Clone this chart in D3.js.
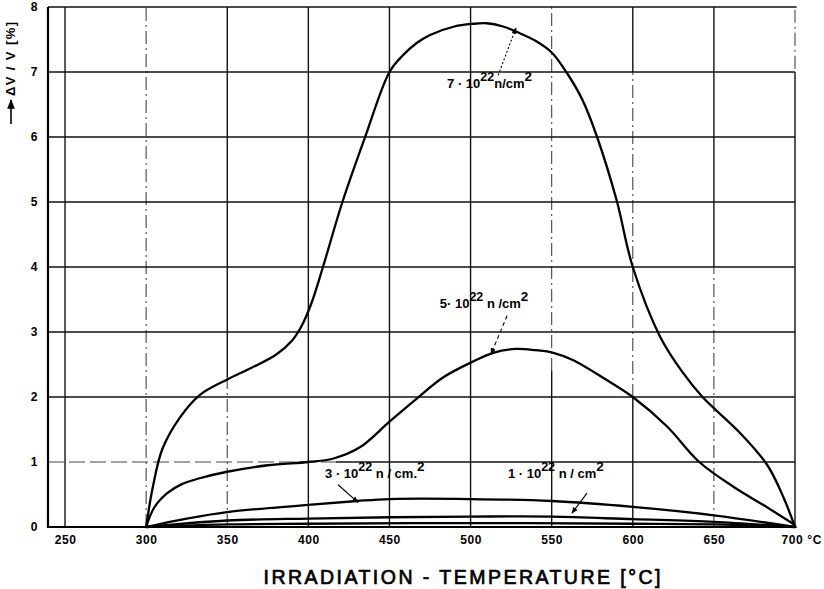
<!DOCTYPE html>
<html><head><meta charset="utf-8">
<script src="https://cdn.jsdelivr.net/npm/d3@7"></script>
<style>
body{margin:0;background:#fff;}
text{font-family:"Liberation Sans",Arial,sans-serif;}
</style></head>
<body><svg id="c" width="824" height="589"></svg>
<script>
// ---- data ----
const xTicks = [250,300,350,400,450,500,550,600,650,700];
const yTicks = [0,1,2,3,4,5,6,7,8];

const temps7 = [300,304,310,321,333,350,365,380,390,396,402,409,421,435,450,458,467,475,490,501,510,520,530,540,550,559,569,578,590,600,617,631,643,666,683,693,700];
const vals7  = [0,0.6,1.2,1.69,2.03,2.27,2.45,2.65,2.87,3.1,3.45,4.0,5.0,6.0,7.0,7.25,7.45,7.57,7.7,7.74,7.75,7.7,7.6,7.48,7.3,7.0,6.57,6.0,5.03,4.0,2.92,2.37,2.0,1.45,0.95,0.45,0];

const temps5 = [300,305,313,322,333,350,375,400,415,432,450,467,483,501,514,528,540,551,563,584,600,621,641,662,683,700];
const vals5  = [0,0.3,0.52,0.66,0.75,0.85,0.95,1.0,1.05,1.23,1.62,1.98,2.3,2.54,2.68,2.74,2.72,2.68,2.57,2.26,2.0,1.55,1.0,0.62,0.3,0.03];

const temps3 = [300,325,350,400,430,450,500,550,600,650,700];
const vals3  = [0,0.13,0.23,0.34,0.4,0.43,0.43,0.4,0.31,0.18,0];

const temps1 = [300,350,400,450,500,550,600,650,700];
const vals1  = [0,0.1,0.13,0.15,0.16,0.16,0.12,0.08,0];

const tempsLow = [300,350,400,500,600,650,700];
const valsLow  = [0,0.04,0.05,0.06,0.05,0.04,0];

// ---- layout ----
const svg = d3.select("#c");
const x = d3.scaleLinear().domain([239.5,700]).range([48,795]);
const y = d3.scaleLinear().domain([0,8]).range([527,7]);

const dashDot = "13,4,2,4";
const vGrid = [
  {t:250, segs:[[0,8,"s"]]},
  {t:300, segs:[[0,8,"d"]]},
  {t:350, segs:[[2.3,8,"s"],[0,2.3,"d"]]},
  {t:400, segs:[[0,8,"s"]]},
  {t:450, segs:[[0,8,"s"]]},
  {t:500, segs:[[0,8,"s"]]},
  {t:550, segs:[[2.4,8,"d"],[0,2.4,"s"]]},
  {t:600, segs:[[7,8,"s"],[2,7,"d"],[0,2,"s"]]},
  {t:650, segs:[[4,8,"s"],[0,4,"d"]]},
  {t:700, segs:[[7.05,8,"d"],[0,7,"s"]]}
];
const hGrid = [
  {v:1, segs:[[239.5,417,"d"],[417,700,"s"]]},
  {v:2, segs:[[239.5,700,"s"]]},
  {v:3, segs:[[239.5,700,"s"]]},
  {v:4, segs:[[239.5,700,"s"]]},
  {v:5, segs:[[239.5,700,"s"]]},
  {v:6, segs:[[239.5,700,"s"]]},
  {v:7, segs:[[239.5,700,"s"]]},
  {v:8, segs:[[239.5,701,"s"]]}
];

const g = svg.append("g");
vGrid.forEach(l => l.segs.forEach(s => {
  g.append("line").attr("x1",x(l.t)).attr("x2",x(l.t)).attr("y1",y(s[0])).attr("y2",y(s[1]))
   .attr("stroke", s[2]==="s" ? "#111" : "#444")
   .attr("stroke-width", s[2]==="s" ? 1.4 : 1.1)
   .attr("stroke-dasharray", s[2]==="s" ? null : dashDot);
}));
hGrid.forEach(l => l.segs.forEach(s => {
  g.append("line").attr("y1",y(l.v)).attr("y2",y(l.v)).attr("x1",x(s[0])).attr("x2",x(s[1]))
   .attr("stroke", s[2]==="s" ? "#111" : "#444")
   .attr("stroke-width", s[2]==="s" ? 1.5 : 1.2)
   .attr("stroke-dasharray", s[2]==="s" ? null : "16,5");
}));

// frame axes
svg.append("line").attr("x1",x(239.5)).attr("x2",x(239.5)).attr("y1",y(8)).attr("y2",y(0)+1).attr("stroke","#000").attr("stroke-width",2.2);
svg.append("line").attr("x1",x(239.5)).attr("x2",x(701)).attr("y1",y(0)).attr("y2",y(0)).attr("stroke","#000").attr("stroke-width",2.2);

// curves
const line = d3.line().x(d=>x(d[0])).y(d=>y(d[1])).curve(d3.curveCatmullRom.alpha(0.5));
const all = [
  d3.zip(temps7,vals7), d3.zip(temps5,vals5), d3.zip(temps3,vals3), d3.zip(temps1,vals1), d3.zip(tempsLow,valsLow)
];
svg.append("g").selectAll("path").data(all).join("path")
  .attr("d", line).attr("fill","none").attr("stroke","#000").attr("stroke-width",2.3).attr("stroke-linejoin","round");

// axes
const xAxis = svg.append("g").attr("transform",`translate(0,${y(0)})`)
  .call(d3.axisBottom(x).tickValues(xTicks).tickSize(0).tickPadding(8).tickFormat(d=> d===700 ? "700 °C" : d));
const yAxis = svg.append("g").attr("transform",`translate(${x(239.5)},0)`)
  .call(d3.axisLeft(y).tickValues(yTicks).tickSize(0).tickPadding(10));
[xAxis,yAxis].forEach(a=>{ a.select(".domain").remove();
  a.selectAll("text").attr("font-family","Liberation Sans, Arial, sans-serif").attr("font-weight","bold").attr("font-size",12).attr("letter-spacing",0.6).attr("fill","#000"); });
xAxis.selectAll(".tick").filter(d=>d===700).select("text").attr("text-anchor","start").attr("dx",-14);

// axis titles
svg.append("text").attr("x",462).attr("y",584).attr("text-anchor","middle")
  .attr("font-size",19.5).attr("font-weight","normal").attr("font-family","Liberation Sans, Arial, sans-serif").attr("fill","#000")
  .attr("stroke","#000").attr("stroke-width",0.7)
  .attr("textLength",397).attr("lengthAdjust","spacing")
  .text("IRRADIATION - TEMPERATURE   [°C]");

const defs = svg.append("defs");
defs.append("marker").attr("id","ah").attr("viewBox","0 0 10 10").attr("refX",9).attr("refY",5)
  .attr("markerWidth",6).attr("markerHeight",6).attr("orient","auto")
  .append("path").attr("d","M0,1 L10,5 L0,9 Z").attr("fill","#000");

svg.append("line").attr("x1",11).attr("x2",11).attr("y1",124).attr("y2",100)
  .attr("stroke","#000").attr("stroke-width",1.6).attr("marker-end","url(#ah)");
svg.append("text").attr("transform","translate(15,96) rotate(-90)").attr("text-anchor","start")
  .attr("font-size",13).attr("font-weight","bold").attr("fill","#000")
  .attr("textLength",74).attr("lengthAdjust","spacing")
  .text("ΔV / V  [%]");

// annotations (data units)
const notes = [
  {lead:"7 · 10", mid:"n/cm", t:485.5, v:6.75, from:[517,6.95], to:[528,7.68], dash:"2,2"},
  {lead:"5· 10", mid:" n /cm", t:481, v:3.37, from:[522.5,3.25], to:[512.6,2.66], dash:"4,3"},
  {lead:"3 · 10", mid:" n / cm.", t:410.3, v:0.75, from:[418.3,0.65], to:[430.6,0.38], dash:null},
  {lead:"1 · 10", mid:"  n / cm", t:523, v:0.75, from:[571.8,0.52], to:[562.5,0.215], dash:null}
];
notes.forEach((n,i)=>{
  const tx = svg.append("text").attr("x",x(n.t)).attr("y",y(n.v)).attr("font-size",13).attr("font-weight","bold").attr("fill","#000");
  tx.append("tspan").text(n.lead);
  tx.append("tspan").attr("dy",-7).attr("font-size",12.5).text("22");
  tx.append("tspan").attr("dy",7).text(n.mid);
  tx.append("tspan").attr("dy",-7).attr("font-size",13.5).text("2");
  svg.append("line").attr("x1",x(n.from[0])).attr("y1",y(n.from[1])).attr("x2",x(n.to[0])).attr("y2",y(n.to[1]))
    .attr("stroke","#000").attr("stroke-width",1.1).attr("stroke-dasharray",n.dash).attr("marker-end","url(#ah)");
});
</script></body></html>
